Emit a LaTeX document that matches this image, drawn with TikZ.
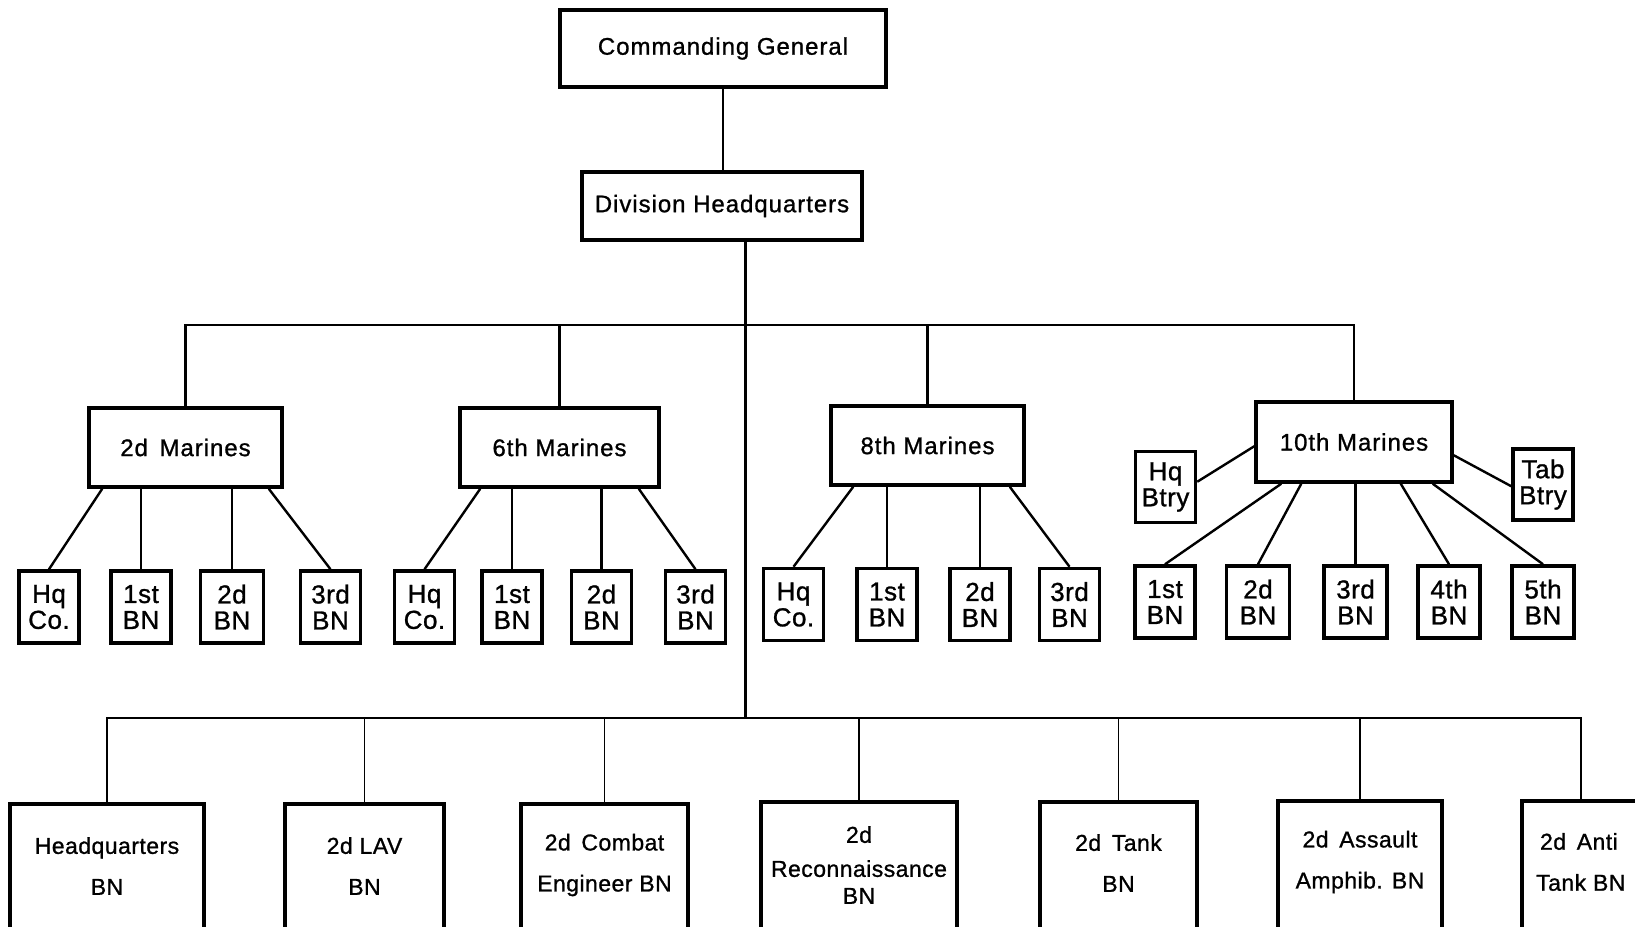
\documentclass[tikz,border=0pt]{standalone}
\usepackage{fontspec}
\newfontfamily\lbl[LetterSpace=4,FakeBold=1]{Liberation Sans}
\newfontfamily\lbs[LetterSpace=2,FakeBold=1]{Liberation Sans}
\usetikzlibrary{calc}
\begin{document}
\begin{tikzpicture}[x=1pt,y=-1pt,
  bx/.style={draw, line width=3.5pt, inner sep=0pt, align=center},
  topbox/.style={bx, font=\lbl\fontsize{24}{28}\selectfont},
  regbox/.style={bx, font=\lbl\fontsize{24}{28}\selectfont, minimum height=79},
  smbox/.style={bx, font=\lbs\fontsize{26}{26}\selectfont, minimum width=60, minimum height=72},
  bigbox/.style={draw, line width=3.5pt, inner sep=0pt, anchor=north, minimum height=170},
  bigtxt/.style={inner sep=0pt, align=center, font=\lbs\fontsize{23}{25}\selectfont},
  ln/.style={line width=2.4pt},
  thin/.style={line width=1.9pt}]
\useasboundingbox (0,0) rectangle (1635,926);
\clip (0,0) rectangle (1635,926);
\fill[white] (0,0) rectangle (1635,926);

% top
\node[topbox, minimum width=326, minimum height=77] (cg) at (723,48.5) {Commanding General};
\node[topbox, minimum width=280, minimum height=68] (dhq) at (722,206) {Division Headquarters};
\draw[ln] (cg.south) -- (cg.south |- dhq.north);

\coordinate (tj) at (745.5,325);
\coordinate (bj) at (745.5,718);
\draw[ln] (dhq.south -| tj) -- (bj);

% regiments
\node[regbox, minimum width=193] (r2) at (185.5,447.5) {2d\, Marines};
\node[regbox, minimum width=199] (r6) at (559.5,447.5) {6th Marines};
\node[regbox, minimum width=193] (r8) at (927.5,445.5) {8th Marines};
\node[regbox, minimum width=196, minimum height=80] (r10) at (1354,442) {10th Marines};

\draw[ln] (r2.north) -- (r2.north |- tj) -- (r10.north |- tj) -- (r10.north);
\draw[ln] (r6.north) -- (r6.north |- tj);
\draw[ln] (r8.north) -- (r8.north |- tj);

% 2d Marines children
\node[smbox] (a1) at (49,607) {Hq\\Co.};
\node[smbox] (a2) at (141,607) {1st\\BN};
\node[smbox, minimum width=63] (a3) at (232,607) {2d\\BN};
\node[smbox] (a4) at (330.5,607) {3rd\\BN};
\draw[ln] ($(r2.south west)+(15,0)$) -- (a1.north);
\draw[ln] (a2.north) -- (a2.north |- r2.south);
\draw[ln] (a3.north) -- (a3.north |- r2.south);
\draw[ln] ($(r2.south east)+(-15,0)$) -- (a4.north);

% 6th Marines children
\node[smbox] (b1s) at (424.5,607) {Hq\\Co.};
\node[smbox] (b2s) at (512,607) {1st\\BN};
\node[smbox] (b3s) at (601.5,607) {2d\\BN};
\node[smbox] (b4s) at (695.5,607) {3rd\\BN};
\draw[ln] ($(r6.south west)+(22,0)$) -- (b1s.north);
\draw[ln] (b2s.north) -- (b2s.north |- r6.south);
\draw[ln] (b3s.north) -- (b3s.north |- r6.south);
\draw[ln] ($(r6.south east)+(-22,0)$) -- (b4s.north);

% 8th Marines children
\node[smbox] (c1s) at (793.5,604.5) {Hq\\Co.};
\node[smbox] (c2s) at (887,604.5) {1st\\BN};
\node[smbox] (c3s) at (980,604.5) {2d\\BN};
\node[smbox] (c4s) at (1069.5,604.5) {3rd\\BN};
\draw[ln] ($(r8.south west)+(24,0)$) -- (c1s.north);
\draw[ln] (c2s.north) -- (c2s.north |- r8.south);
\draw[ln] (c3s.north) -- (c3s.north |- r8.south);
\draw[ln] ($(r8.south east)+(-16,0)$) -- (c4s.north);

% 10th Marines children
\node[smbox, minimum height=71] (hqb) at (1165.5,487) {Hq\\Btry};
\node[smbox, minimum height=71] (tab) at (1543,484.5) {Tab\\Btry};
\node[smbox] (d1) at (1165,602) {1st\\BN};
\node[smbox, minimum width=63] (d2) at (1258,602) {2d\\BN};
\node[smbox, minimum width=63] (d3) at (1355.5,602) {3rd\\BN};
\node[smbox, minimum width=62] (d4) at (1449,602) {4th\\BN};
\node[smbox, minimum width=62] (d5) at (1543,602) {5th\\BN};
\draw[ln] ($(r10.north west)+(0,46)$) -- ($(hqb.north east)+(0,32)$);
\draw[ln] ($(r10.north east)+(0,55)$) -- ($(tab.north west)+(0,39)$);
\draw[ln] ($(r10.south west)+(27,0)$) -- (d1.north);
\draw[ln] ($(r10.south west)+(47,0)$) -- (d2.north);
\draw[ln] (d3.north) -- (d3.north |- r10.south);
\draw[ln] ($(r10.south east)+(-53,0)$) -- (d4.north);
\draw[ln] ($(r10.south east)+(-21,0)$) -- (d5.north);

% bottom row
\node[bigbox, minimum width=194] (e1) at (107,802) {};
\node[bigbox, minimum width=159] (e2) at (364.5,802) {};
\node[bigbox, minimum width=167] (e3) at (604.5,802) {};
\node[bigbox, minimum width=196] (e4) at (859,800) {};
\node[bigbox, minimum width=157] (e5) at (1118.5,800) {};
\node[bigbox, minimum width=164] (e6) at (1360,799) {};
\node[bigbox, minimum width=118] (e7) at (1581,799) {};

\draw[thin] (e1.north) -- (e1.north |- bj) -- (e7.north |- bj) -- (e7.north);
\foreach \n in {e2,e3,e4,e5,e6} \draw[thin] (\n.north) -- (\n.north |- bj);

\node[bigtxt] (t1) at (107,866) {Headquarters\\[16pt]BN};
\node[bigtxt] (t2) at (364.5,866) {2d LAV\\[16pt]BN};
\node[bigtxt] (t3) at (604.5,865) {2d\, Combat\\[16pt]Engineer BN};
\node[bigtxt] (t4) at (859,865) {2d\\[9pt]Reconnaissance\\[2pt]BN};
\node[bigtxt] (t5) at (1118.5,863) {2d\, Tank\\[16pt]BN};
\node[bigtxt] (t6) at (1360,862) {2d\, Assault\\[16pt]Amphib. BN};
\node[bigtxt, anchor=west, align=left] (t7) at (1536,862) {\,2d\, Anti\\[16pt]Tank BN};
\end{tikzpicture}
\end{document}
